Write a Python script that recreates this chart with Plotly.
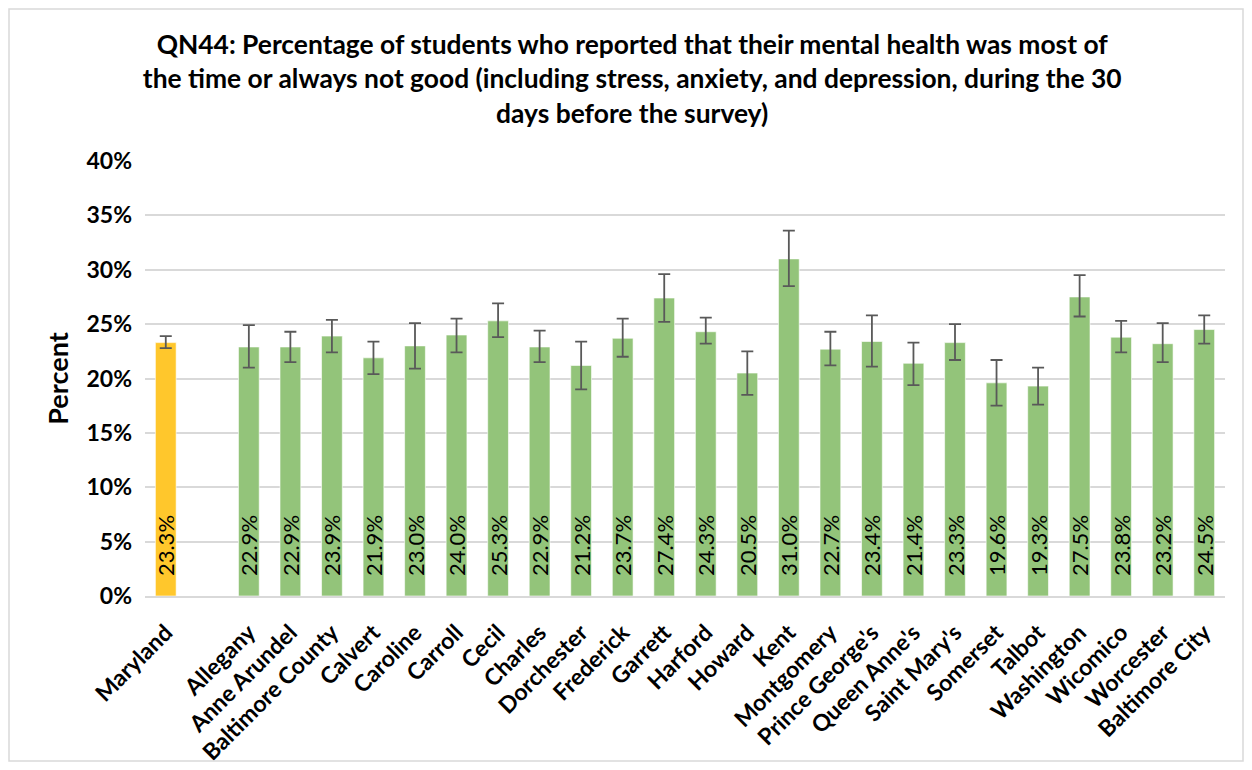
import plotly.graph_objects as go

# categories (blank slot between Maryland and the counties)
places = ["Maryland", "", "Allegany", "Anne Arundel", "Baltimore County", "Calvert", "Caroline",
          "Carroll", "Cecil", "Charles", "Dorchester", "Frederick", "Garrett", "Harford",
          "Howard", "Kent", "Montgomery", "Prince George's", "Queen Anne's", "Saint Mary's",
          "Somerset", "Talbot", "Washington", "Wicomico", "Worcester", "Baltimore City"]
pct = [23.3, None, 22.9, 22.9, 23.9, 21.9, 23.0, 24.0, 25.3, 22.9, 21.2, 23.7, 27.4, 24.3,
       20.5, 31.0, 22.7, 23.4, 21.4, 23.3, 19.6, 19.3, 27.5, 23.8, 23.2, 24.5]
ci_low = [22.8, None, 21.0, 21.5, 22.4, 20.4, 20.9, 22.4, 23.8, 21.5, 19.0, 22.0, 25.2, 23.2,
          18.5, 28.5, 21.2, 21.1, 19.4, 21.7, 17.5, 17.6, 25.7, 22.4, 21.5, 23.2]
ci_high = [23.9, None, 24.9, 24.3, 25.4, 23.4, 25.1, 25.5, 26.9, 24.4, 23.4, 25.5, 29.6, 25.6,
           22.5, 33.6, 24.3, 25.8, 23.3, 25.0, 21.7, 21.0, 29.5, 25.3, 25.1, 25.8]

plus = [None if v is None else h - v for v, h in zip(pct, ci_high)]
minus = [None if v is None else v - l for v, l in zip(pct, ci_low)]
# leading no-break spaces lift the label a little off the axis, like the original
labels = ["" if v is None else "\u00a0\u00a0\u00a0%.1f%%" % v for v in pct]
colors = ["#FFC72C" if p == "Maryland" else "#93C47A" for p in places]
xkeys = [p if p else " " for p in places]

W, H = 1236, 754
L, R, T, B = 137, 19, 153, 166

fig = go.Figure()
fig.add_trace(go.Bar(
    x=xkeys, y=pct,
    marker=dict(color=colors, line=dict(color="rgba(255,255,255,0.6)", width=1)),
    width=0.5,
    text=labels, textposition="inside", insidetextanchor="start", textangle=-90,
    constraintext="none",
    textfont=dict(family="Lato", size=22, color="black"),
    error_y=dict(type="data", symmetric=False, array=plus, arrayminus=minus,
                 color="#595959", thickness=1.8, width=6),
    hoverinfo="x+y",
))

fig.update_layout(
    width=W, height=H,
    paper_bgcolor="white", plot_bgcolor="white",
    margin=dict(l=L, r=R, t=T, b=B),
    showlegend=False,
    title=dict(
        text="QN44: Percentage of students who reported that their mental health was most of<br>"
             "the time or always not good (including stress, anxiety, and depression, during the 30<br>"
             "days before the survey)",
        x=0.505, xanchor="center", y=1 - 24 / H, yanchor="top",
        font=dict(family="Lato", size=26.4, color="black", weight="bold"),
        pad=dict(t=22),
    ),
    xaxis=dict(
        type="category", categoryorder="array", categoryarray=xkeys,
        tickangle=-45, tickfont=dict(family="Lato", size=23, color="black", weight="bold"),
        showline=True, linecolor="#D9D9D9", linewidth=2, ticks="",
        ticklabelstandoff=12, automargin=False,
        showgrid=False,
    ),
    yaxis=dict(
        range=[0, 40], dtick=5, ticksuffix="%",
        tickfont=dict(family="Lato", size=23, color="black", weight="bold"),
        gridcolor="#D9D9D9", gridwidth=2, zeroline=False,
        ticklabelstandoff=12, automargin=False,
        title=dict(text="Percent", font=dict(family="Lato", size=27, color="black", weight="bold"),
                   standoff=10),
    ),
)

# chart-area border
pw, ph = W - L - R, H - T - B
fig.add_shape(type="rect", xref="paper", yref="paper",
              x0=-(L - 1) / pw, x1=1 + (R - 1) / pw, y0=-(B - 1) / ph, y1=1 + (T - 1) / ph,
              line=dict(color="#D9D9D9", width=1.5))

fig.write_html("out.html")
